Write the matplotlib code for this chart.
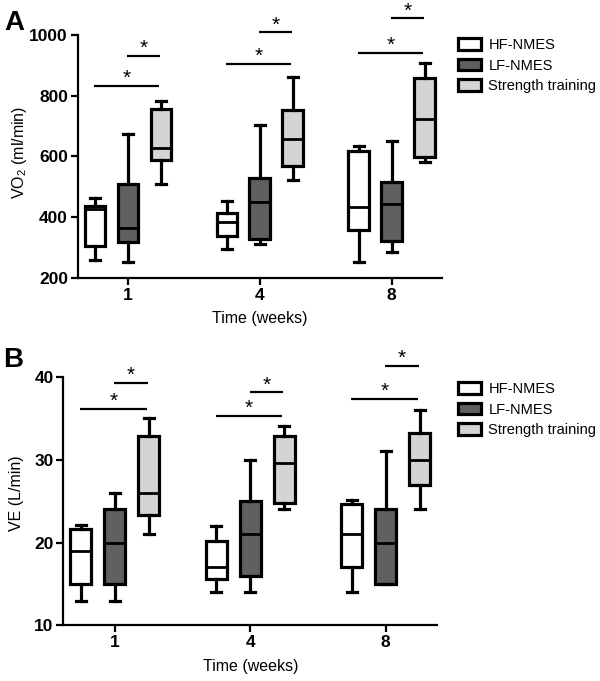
import matplotlib
matplotlib.use("Agg")
import matplotlib.pyplot as plt
from matplotlib.patches import Patch

plt.rcParams['font.family'] = ['Liberation Sans', 'DejaVu Sans']
plt.rcParams['mathtext.default'] = 'regular'

weeks = ['1', '4', '8']
groups = ['HF-NMES', 'LF-NMES', 'Strength training']
colors = ['#ffffff', '#606060', '#d4d4d4']

# Panel A: VO2 (ml/min) five-number summaries per week
vo2_hf_lo = [260, 295, 254]
vo2_hf_q1 = [306, 339, 359]
vo2_hf_med = [427, 385, 435]
vo2_hf_q3 = [436, 415, 617]
vo2_hf_hi = [463, 453, 634]

vo2_lf_lo = [252, 311, 287]
vo2_lf_q1 = [320, 328, 322]
vo2_lf_med = [366, 450, 444]
vo2_lf_q3 = [510, 528, 515]
vo2_lf_hi = [675, 705, 650]

vo2_st_lo = [508, 521, 581]
vo2_st_q1 = [589, 570, 598]
vo2_st_med = [628, 658, 722]
vo2_st_q3 = [758, 752, 859]
vo2_st_hi = [783, 862, 908]

vo2_sig_long = [833, 905, 940]
vo2_sig_short = [932, 1009, 1055]

# Panel B: VE (L/min)
ve_hf_lo = [13, 14, 14]
ve_hf_q1 = [15, 15.6, 17]
ve_hf_med = [19, 17, 21]
ve_hf_q3 = [21.6, 20.2, 24.6]
ve_hf_hi = [22.1, 22, 25.1]

ve_lf_lo = [13, 14, 15]
ve_lf_q1 = [15, 16, 15]
ve_lf_med = [20, 21, 20]
ve_lf_q3 = [24, 25, 24]
ve_lf_hi = [26, 30, 31]

ve_st_lo = [21, 24, 24]
ve_st_q1 = [23.3, 24.8, 27]
ve_st_med = [26, 29.6, 30]
ve_st_q3 = [32.8, 32.8, 33.2]
ve_st_hi = [35, 34, 36]

ve_sig_long = [36.1, 35.3, 37.35]
ve_sig_short = [39.3, 38.1, 41.3]

panelA = [
    (vo2_hf_lo, vo2_hf_q1, vo2_hf_med, vo2_hf_q3, vo2_hf_hi),
    (vo2_lf_lo, vo2_lf_q1, vo2_lf_med, vo2_lf_q3, vo2_lf_hi),
    (vo2_st_lo, vo2_st_q1, vo2_st_med, vo2_st_q3, vo2_st_hi),
]
panelB = [
    (ve_hf_lo, ve_hf_q1, ve_hf_med, ve_hf_q3, ve_hf_hi),
    (ve_lf_lo, ve_lf_q1, ve_lf_med, ve_lf_q3, ve_lf_hi),
    (ve_st_lo, ve_st_q1, ve_st_med, ve_st_q3, ve_st_hi),
]

fig = plt.figure(figsize=(6.0, 6.81), dpi=100)
axA = fig.add_axes([0.1295, 0.5918, 0.6067, 0.3568])
axB = fig.add_axes([0.1055, 0.0815, 0.6233, 0.3653])

offsets = [-0.25, 0.0, 0.25]
LW = 2.3


def draw_panel(ax, data, sig_long, sig_short, ylim, yticks):
    for g, (lo, q1, med, q3, hi) in enumerate(data):
        stats = []
        for i in range(len(weeks)):
            stats.append(dict(whislo=lo[i], q1=q1[i], med=med[i], q3=q3[i],
                              whishi=hi[i], fliers=[]))
        pos = [i + 1 + offsets[g] for i in range(len(weeks))]
        ax.bxp(stats, positions=pos, widths=0.155, capwidths=0.075,
               patch_artist=True, showfliers=False, manage_ticks=False,
               boxprops=dict(facecolor=colors[g], edgecolor='black', linewidth=LW),
               medianprops=dict(color='black', linewidth=2.0),
               whiskerprops=dict(color='black', linewidth=LW),
               capprops=dict(color='black', linewidth=LW))
    for i in range(len(weeks)):
        c = i + 1
        for (x0, x1, y) in [(c - 0.255, c + 0.235, sig_long[i]),
                            (c - 0.005, c + 0.245, sig_short[i])]:
            ax.plot([x0, x1], [y, y], color='black', lw=1.6, clip_on=False,
                    solid_capstyle='butt')
            ax.annotate('*', xy=((x0 + x1) / 2, y), xytext=(0, -1.5),
                        textcoords='offset points', ha='center', va='bottom',
                        fontsize=15, annotation_clip=False)
    ax.set_xlim(0.62, 3.38)
    ax.set_ylim(*ylim)
    ax.set_yticks(yticks)
    ax.set_xticks([1, 2, 3])
    ax.set_xticklabels(weeks)
    for s in ['top', 'right']:
        ax.spines[s].set_visible(False)
    for s in ['left', 'bottom']:
        ax.spines[s].set_linewidth(1.6)
    ax.tick_params(axis='both', direction='out', length=5, width=1.6,
                   labelsize=12.5, pad=2)
    for lab in ax.get_xticklabels() + ax.get_yticklabels():
        lab.set_fontweight('bold')
    ax.set_xlabel('Time (weeks)', fontsize=11.5, labelpad=6)
    handles = [Patch(facecolor=colors[g], edgecolor='black', linewidth=LW,
                     label=groups[g]) for g in range(3)]
    return handles


hA = draw_panel(axA, panelA, vo2_sig_long, vo2_sig_short, (200, 1000),
                [200, 400, 600, 800, 1000])
hB = draw_panel(axB, panelB, ve_sig_long, ve_sig_short, (10, 40),
                [10, 20, 30, 40])

fig.text(0.032, 1 - 152 / 681, 'VO$_2$ (ml/min)', rotation=90, ha='center',
         va='center', fontsize=11.5)
fig.text(0.027, 1 - 493 / 681, 'VE (L/min)', rotation=90, ha='center',
         va='center', fontsize=11.5)

fig.text(0.008, 1 - 10 / 681, 'A', fontsize=20, fontweight='bold', va='top')
fig.text(0.006, 1 - 347 / 681, 'B', fontsize=20, fontweight='bold', va='top')

for handles, top in [(hA, 1 - 38 / 681), (hB, 1 - 382 / 681)]:
    fig.legend(handles=handles, loc='upper left', bbox_to_anchor=(0.763, top),
               frameon=False, fontsize=10.5, handlelength=1.6,
               handleheight=0.8, handletextpad=0.5, labelspacing=0.45,
               borderpad=0, borderaxespad=0)

fig.savefig('out.png', dpi=100)
